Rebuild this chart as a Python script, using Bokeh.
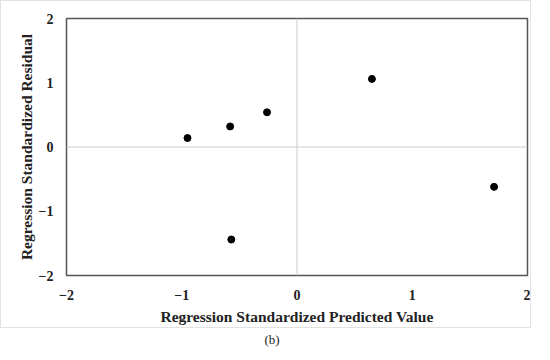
from bokeh.plotting import figure
from bokeh.models import Span, FixedTicker, Div
from bokeh.layouts import column
from bokeh.embed import file_html
from bokeh.resources import INLINE

# data
pred = [-0.95, -0.58, -0.26, 0.65, 1.71, -0.57]
resid = [0.14, 0.32, 0.54, 1.06, -0.62, -1.44]
ticks = [-2, -1, 0, 1, 2]
tick_labels = ["\u22122", "\u22121", "0", "1", "2"]

FONT = "Liberation Serif"

p = figure(width=531, height=328, output_backend="svg", toolbar_location=None,
           x_range=(-2, 2), y_range=(-2, 2),
           min_border_left=65, min_border_right=5, min_border_top=17, min_border_bottom=54,
           styles={"border": "1.5px solid #e2e2e2"})

p.xgrid.visible = False
p.ygrid.visible = False
p.outline_line_color = "#555555"
p.outline_line_width = 1.5

p.add_layout(Span(location=0, dimension="height", line_color="#cccccc", line_width=1))
p.add_layout(Span(location=0, dimension="width", line_color="#cccccc", line_width=1))

p.scatter(pred, resid, size=7, color="black")

for ax in (p.xaxis[0], p.yaxis[0]):
    ax.ticker = FixedTicker(ticks=ticks)
    ax.major_label_overrides = {t: l for t, l in zip(ticks, tick_labels)}
    ax.major_tick_line_color = None
    ax.minor_tick_line_color = None
    ax.major_tick_out = 0
    ax.major_tick_in = 0
    ax.axis_line_color = None
    ax.major_label_text_font = FONT
    ax.major_label_text_font_style = "bold"
    ax.major_label_text_font_size = "14px"
    ax.major_label_text_color = "#222222"
    ax.axis_label_text_font = FONT
    ax.axis_label_text_font_style = "bold"
    ax.axis_label_text_font_size = "15.5px"
    ax.axis_label_text_color = "#222222"

p.xaxis.axis_label = "Regression Standardized Predicted Value"
p.yaxis.axis_label = "Regression Standardized Residual"
p.xaxis.major_label_standoff = 14
p.xaxis.axis_label_standoff = 5
p.yaxis.major_label_standoff = 13
p.yaxis.axis_label_standoff = 1

cap = Div(text='<span style="color:#222222">(b)</span>', width=534, height=14,
          styles={"text-align": "center", "font-family": "Liberation Serif",
                  "font-size": "13px", "color": "#222222", "line-height": "14px"})

layout = column(p, cap, spacing=0)

open("out.html", "w").write(file_html(layout, INLINE))
